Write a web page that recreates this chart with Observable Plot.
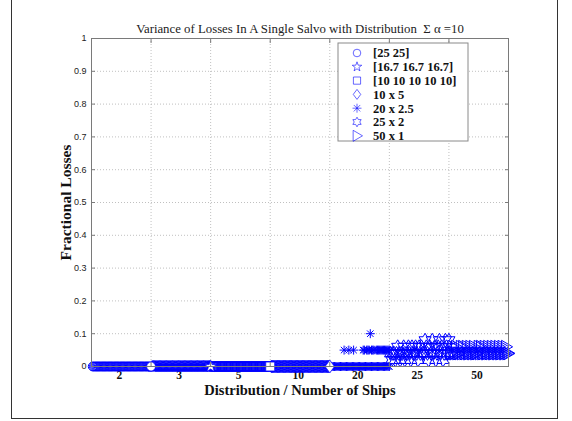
<!DOCTYPE html>
<html>
<head>
<meta charset="utf-8">
<script src="https://cdn.jsdelivr.net/npm/d3@7"></script>
<script src="https://cdn.jsdelivr.net/npm/@observablehq/plot@0.6"></script>
<style>
  body { margin: 0; background: #fff; }
  #fig { position: relative; width: 572px; height: 421px; overflow: hidden; background: #fff; }
  #fig .sheet { position: absolute; left: 11px; top: -3px; width: 547px; height: 422px; border: 1.5px solid #333; box-sizing: border-box; pointer-events: none; }
</style>
</head>
<body>
<div id="fig"><div class="sheet"></div></div>
<script>
// Distributions of the salvo (legend entries) and their number of ships (x category labels)
const groupLabels = ["[25 25]", "[16.7 16.7 16.7]", "[10 10 10 10 10]", "10 x 5", "20 x 2.5", "25 x 2", "50 x 1"];
const shipCounts = ["2", "3", "5", "10", "20", "25", "50"];
const yTicks = [0, 0.1, 0.2, 0.3, 0.4, 0.5, 0.6, 0.7, 0.8, 0.9, 1];
const xGrid = [50, 100, 150, 200, 250, 300];
const samplesPerGroup = 50;

// Fractional losses per trial, one value per sample (null = no point)
const lossCircle = [0,0,0,0,0,0,0,0,0,0,0,0,0,0,0,0,0,0,0,0,0,0,0,0,0,0,0,0,0,0,0,0,0,0,0,0,0,0,0,0,0,0,0,0,0,0,0,0,0,0];
const lossStar = [0,0,0,0,0,0,0,0,0,0,0,0,0,0,0,0,0,0,0,0,0,0,0,0,0,0,0,0,0,0,0,0,0,0,0,0,0,0,0,0,0,0,0,0,0,0,0,0,0,0];
const lossSquare = [0,0,0,0,0,0,0,0,0,0,0,0,0,0,0,0,0,0,0,0,0,0,0,0,0,0,0,0,0,0,0,0,0,0,0,0,0,0,0,0,0,0,0,0,0,0,0,0,0,0];
const lossDiamond = [0,0,0,0,0,0,0,0,0,0,0,0,0,0,0,0,0,0,0,0,0,0,0,0,0,0,0,0,0,0,0,0,0,0,0,0,0,0,0,0,0,0,0,0,0,0,0,0,0,0];
const lossAsteriskLow = [0,0,0,0,0,0,0,0,0,0,0,0,0,0,0,0,0,0,0,0,0,0,0,0,0,0,0,0,0,0,0,0,0,0,0,0,0,0,0,0,0,0,0,0,0,0,0,0,0,0];
const lossAsteriskHigh = [null,null,null,null,null,null,null,null,null,null,
  null,0.05,null,null,null,0.05,null,null,null,0.05,
  null,null,null,null,null,null,null,0.05,0.05,null,
  0.05,0.05,0.05,0.1,0.05,0.05,0.05,null,0.05,0.05,
  0.05,0.05,0.05,0.05,0.05,0.05,0.05,0.05,0.05,0.05];
const lossHexagram = [0.04,0.02,0.04,0.04,0.02,0.04,0.06,0.04,0.02,0.04,
  0.04,0.06,0.02,0.04,0.04,0.06,0.04,0.02,0.06,0.04,
  0.04,0.06,0.04,0.02,0.06,0.04,0.06,0.04,0.04,0.08,
  0.06,0.04,0.02,0.06,0.04,0.08,0.04,0.06,0.02,0.04,
  0.06,0.08,0.04,0.06,0.02,0.04,0.08,0.06,0.04,0.08];
const lossTriangle = [0.04,0.04,0.06,0.04,0.04,0.06,0.04,0.04,0.04,0.06,
  0.04,0.06,0.04,0.04,0.06,0.04,0.04,0.06,0.04,0.04,
  0.06,0.04,0.04,0.04,0.06,0.04,0.06,0.04,0.04,0.06,
  0.04,0.04,0.06,0.04,0.04,0.06,0.04,0.04,0.06,0.04,
  0.04,0.06,0.04,0.04,0.06,0.04,0.04,0.06,0.04,0.04];

const series = [
  {group: 0, values: lossCircle},
  {group: 1, values: lossStar},
  {group: 2, values: lossSquare},
  {group: 3, values: lossDiamond},
  {group: 4, values: lossAsteriskLow},
  {group: 4, values: lossAsteriskHigh},
  {group: 5, values: lossHexagram},
  {group: 6, values: lossTriangle}
];

const points = series.flatMap(s => s.values
  .map((v, i) => v == null ? null : {sample: s.group * samplesPerGroup + i + 1, loss: v, group: s.group, last: i === s.values.length - 1})
  .filter(Boolean));

// Outline marker shapes in the style of MATLAB's plot markers; R is the half-extent
const half = size => Math.sqrt(size / Math.PI);
const polygon = (ctx, pts) => { pts.forEach(([x, y], i) => i ? ctx.lineTo(x, y) : ctx.moveTo(x, y)); ctx.closePath(); };
const starPoints = (R, r, n, a0) => d3.range(2 * n).map(k => {
  const a = a0 + k * Math.PI / n, d = k % 2 ? r : R;
  return [d * Math.cos(a), d * Math.sin(a)];
});
const symbols = [
  {draw(ctx, s) { const R = half(s); ctx.moveTo(R, 0); ctx.arc(0, 0, R, 0, 2 * Math.PI); }},
  {draw(ctx, s) { const R = half(s); polygon(ctx, starPoints(R, R * 0.4, 5, -Math.PI / 2)); }},
  {draw(ctx, s) { const R = half(s); polygon(ctx, [[-R, -R], [R, -R], [R, R], [-R, R]]); }},
  {draw(ctx, s) { const R = half(s); polygon(ctx, [[0, -R], [R * 0.75, 0], [0, R], [-R * 0.75, 0]]); }},
  {draw(ctx, s) { const R = half(s), q = R * 0.72;
    ctx.moveTo(-R, 0); ctx.lineTo(R, 0); ctx.moveTo(0, -R); ctx.lineTo(0, R);
    ctx.moveTo(-q, -q); ctx.lineTo(q, q); ctx.moveTo(-q, q); ctx.lineTo(q, -q); }},
  {draw(ctx, s) { const R = half(s); polygon(ctx, starPoints(R, R / Math.sqrt(3), 6, -Math.PI / 2)); }},
  {draw(ctx, s) { const R = half(s); polygon(ctx, [[R, 0], [-R * 0.7, -R], [-R * 0.7, R]]); }}
];
const dataR = [4.4, 6, 4.4, 6.2, 4.5, 7, 6.5];
const legendR = [3.8, 5, 3.6, 5, 4.5, 4.8, 5.5];
const blue = "#0000ff";

const serif = "'Liberation Serif', 'DejaVu Serif', serif";
const sans = "'Liberation Sans', Arial, sans-serif";

const chart = Plot.plot({
  width: 572,
  height: 421,
  marginLeft: 91,
  marginRight: 64,
  marginTop: 38,
  marginBottom: 55,
  style: {background: "transparent", fontFamily: sans},
  x: {domain: [0, 350], axis: null},
  y: {domain: [0, 1], axis: null},
  marks: [
    Plot.ruleX(xGrid, {y1: 0, y2: 1, stroke: "#b0b0b0", strokeWidth: 0.8, strokeDasharray: "1,2"}),
    Plot.ruleY(yTicks.slice(1, -1), {x1: 0, x2: 350, stroke: "#b0b0b0", strokeWidth: 0.8, strokeDasharray: "1,2"}),
    Plot.text(shipCounts, {x: (d, i) => i * samplesPerGroup + samplesPerGroup / 2 - 1.5, y: 0, dy: 8.5, text: d => d,
      fontFamily: serif, fontWeight: "bold", fontSize: 11.5, fill: "#111"}),
    ...symbols.map((sym, g) => Plot.dot(points.filter(p => p.group === g), {
      x: "sample", y: "loss", symbol: () => sym, r: dataR[g], stroke: blue, strokeWidth: 1, fill: "none"
    })),
    ...symbols.slice(0, 4).map((sym, g) => Plot.dot(points.filter(p => p.group === g && p.last), {
      x: "sample", y: "loss", symbol: () => sym, r: dataR[g], stroke: blue, strokeWidth: 0.6, fill: "white"
    })),
    Plot.frame({stroke: "#7a7a7a", strokeWidth: 1}),
    Plot.axisY(yTicks, {anchor: "left", tickSize: -4, tickPadding: 9, stroke: "#7a7a7a", fontSize: 9, fontFamily: sans, fill: "#222", label: null, tickFormat: d => String(d)}),
    Plot.axisY(yTicks, {anchor: "right", tickSize: -4, stroke: "#7a7a7a", tickFormat: () => "", label: null}),
    Plot.axisX(xGrid, {anchor: "bottom", tickSize: -4, stroke: "#7a7a7a", tickFormat: () => "", label: null}),
    Plot.axisX(xGrid, {anchor: "top", tickSize: -4, stroke: "#7a7a7a", tickFormat: () => "", label: null}),
    Plot.text(["Variance of Losses In A Single Salvo with Distribution\u00a0\u00a0Σ α =10"], {
      frameAnchor: "top", dy: -15, fontFamily: serif, fontSize: 12.8, fill: "#222"}),
    Plot.text(["Distribution / Number of Ships"], {
      frameAnchor: "bottom", dy: 28, textAnchor: "middle", fontFamily: serif, fontWeight: "bold", fontSize: 14.5, fill: "#111"}),
    Plot.text(["Fractional Losses"], {
      frameAnchor: "left", dx: -25, textAnchor: "middle", rotate: -90, fontFamily: serif, fontWeight: "bold", fontSize: 15.5, fill: "#111"})
  ]
});

// Legend box listing each distribution with its marker
const svg = d3.select(chart);
const lg = svg.append("g").attr("transform", "translate(338,43)");
lg.append("rect").attr("width", 130).attr("height", 98).attr("fill", "white").attr("stroke", "#8a8a8a").attr("stroke-width", 1);
groupLabels.forEach((label, i) => {
  const y = 10 + i * 13.8;
  lg.append("path")
    .attr("d", d3.symbol(symbols[i], Math.PI * legendR[i] ** 2)())
    .attr("transform", `translate(19,${y})`)
    .attr("fill", "none").attr("stroke", blue).attr("stroke-width", 0.6);
  lg.append("text").attr("x", 35).attr("y", y).attr("dy", "0.35em").attr("text-anchor", "start")
    .attr("font-family", serif).attr("font-weight", "bold").attr("font-size", 12.5).attr("fill", "#111")
    .text(label);
});

document.getElementById("fig").appendChild(chart);
</script>
</body>
</html>
